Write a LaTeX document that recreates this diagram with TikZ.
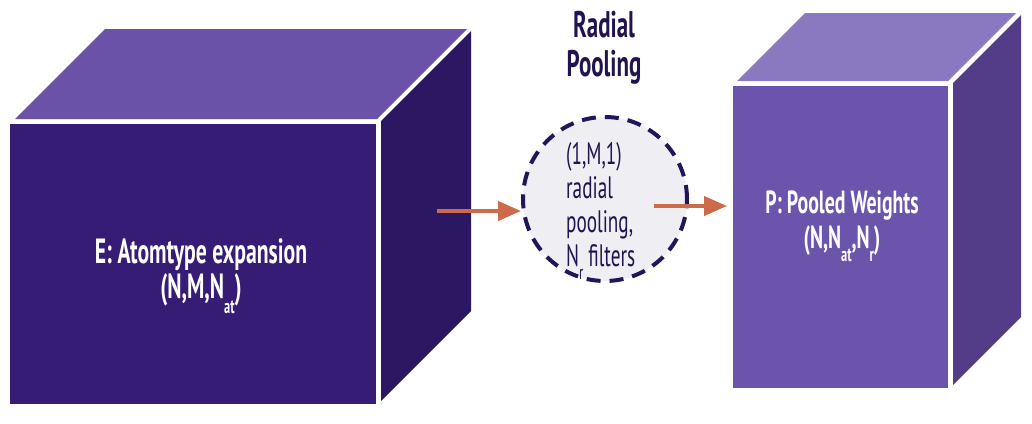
\documentclass[tikz,border=0pt]{standalone}
\usepackage{fontspec}
\setmainfont{PT Sans}[FakeStretch=0.62]
\usetikzlibrary{arrows.meta,calc}
\definecolor{frontL}{HTML}{361C74}
\definecolor{topL}{HTML}{6A52A8}
\definecolor{sideL}{HTML}{2C1762}
\definecolor{frontR}{HTML}{6B54AB}
\definecolor{topR}{HTML}{8A78C0}
\definecolor{sideR}{HTML}{533C88}
\definecolor{arrowc}{HTML}{CC6A4C}
\definecolor{inkc}{HTML}{22134F}
\definecolor{circc}{HTML}{24155A}
\definecolor{circfill}{HTML}{EEEEF3}
\newcommand{\lsub}[1]{\raisebox{-0.42em}{\fontsize{20}{20}\selectfont #1}}
\tikzset{
  face/.style={inner sep=0pt, outer sep=0pt},
  boxtext/.style={text=white, align=center, inner sep=0pt},
  flow/.style={draw=arrowc, line width=4pt, -{Triangle[length=23pt,width=19pt]}},
}
\begin{document}
\begin{tikzpicture}[x=1pt,y=-1pt]
\useasboundingbox (0,0) rectangle (1032,423);
% left box
\fill[topL] (15,119) -- (377,119) -- (467,29) -- (105,29) -- cycle;
\fill[sideL] (381,121) -- (471,31) -- (471,311) -- (381,401) -- cycle;
\node[face, fill=frontL, minimum width=366pt, minimum height=280pt, anchor=north west] (Ef) at (10,124) {};
\node[boxtext, font=\bfseries\fontsize{35}{35}\selectfont] (Et) at (201,276) {E: Atomtype expansion\\(N,M,N\lsub{at})};
% right box
\fill[topR] (737,81) -- (948,81) -- (1016,13) -- (805,13) -- cycle;
\fill[sideR] (953,83) -- (1021,15) -- (1021,317) -- (953,385) -- cycle;
\node[face, fill=frontR, minimum width=215pt, minimum height=302pt, anchor=north west] (Pf) at (733,86) {};
\node[boxtext, font=\bfseries\fontsize{32}{35}\selectfont] (Pt) at (842,226) {P: Pooled Weights\\(N,N\lsub{at},N\lsub{r})};
% title
\node[text=inkc, align=center, inner sep=0pt, font=\bfseries\fontsize{37}{39}\selectfont] (title) at (604,48) {Radial\\Pooling};
% circle
\node[circle, minimum size=164pt, inner sep=0pt, draw=circc, line width=4pt, dash pattern=on 14pt off 9pt, fill=circfill] (C) at (605,199) {};
\node[text=inkc, align=left, anchor=west, inner sep=0pt, font=\fontsize{31}{34}\selectfont] (Ct) at (566,211) {(1,M,1)\\radial\\pooling,\\N\lsub{r} filters};
% arrows
\coordinate (a1) at (437,211);
\coordinate (a2) at (654,206);
\draw[flow] (a1) -- (C.west |- a1);
\draw[flow] (a2) -- ([xshift=-6pt]Pf.west |- a2);
\end{tikzpicture}
\end{document}
